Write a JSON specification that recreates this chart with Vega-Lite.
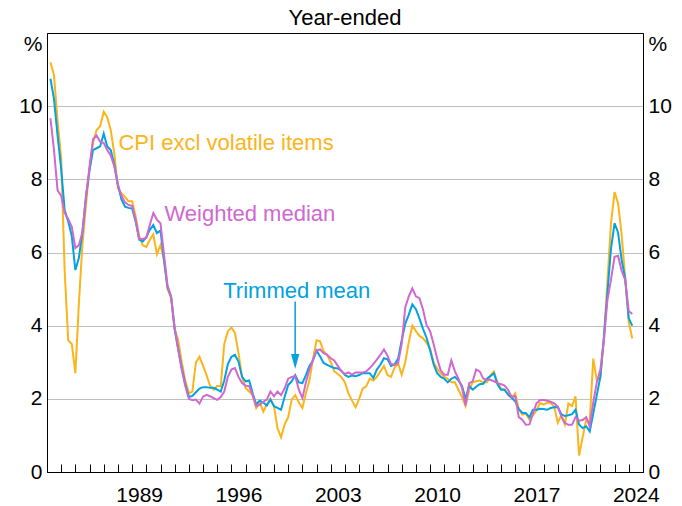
{
  "$schema": "https://vega.github.io/schema/vega-lite/v6.json",
  "width": 596,
  "height": 439,
  "autosize": {"type": "none"},
  "padding": {"left": 47, "top": 33, "right": 39, "bottom": 34},
  "background": "white",
  "title": {"text": "Year-ended", "fontSize": 22, "fontWeight": "normal", "color": "black", "font": "Liberation Sans", "baseline": "alphabetic", "offset": -14, "anchor": "middle"},
  "config": {
    "font": "Liberation Sans",
    "view": {"stroke": "black", "strokeWidth": 1},
    "axis": {"labelFont": "Liberation Sans", "labelFontSize": 21, "labelColor": "black", "domainColor": "black", "domainWidth": 1, "tickColor": "black"}
  },
  "data": {"values": [
    {"d":"1983-03-31","cpi":11.2,"tm":10.75,"wm":9.67},
    {"d":"1983-06-30","cpi":10.85,"tm":10.2,"wm":8.8},
    {"d":"1983-09-30","cpi":9.6,"tm":9.2,"wm":7.7},
    {"d":"1983-12-31","cpi":8.6,"tm":8.3,"wm":7.55},
    {"d":"1984-03-31","cpi":5.5,"tm":7.15,"wm":7.08},
    {"d":"1984-06-30","cpi":3.6,"tm":6.85,"wm":6.92},
    {"d":"1984-09-30","cpi":3.5,"tm":6.45,"wm":6.7},
    {"d":"1984-12-31","cpi":2.7,"tm":5.52,"wm":6.12},
    {"d":"1985-03-31","cpi":4.6,"tm":5.85,"wm":6.2},
    {"d":"1985-06-30","cpi":6.2,"tm":6.55,"wm":6.55},
    {"d":"1985-09-30","cpi":7.3,"tm":7.55,"wm":7.5},
    {"d":"1985-12-31","cpi":8.3,"tm":8.25,"wm":8.35},
    {"d":"1986-03-31","cpi":9.0,"tm":8.8,"wm":9.1},
    {"d":"1986-06-30","cpi":9.35,"tm":8.85,"wm":9.2},
    {"d":"1986-09-30","cpi":9.45,"tm":8.9,"wm":9.03},
    {"d":"1986-12-31","cpi":9.85,"tm":9.25,"wm":8.99},
    {"d":"1987-03-31","cpi":9.7,"tm":8.9,"wm":8.8},
    {"d":"1987-06-30","cpi":9.35,"tm":8.8,"wm":8.65},
    {"d":"1987-09-30","cpi":8.7,"tm":8.4,"wm":8.35},
    {"d":"1987-12-31","cpi":7.75,"tm":7.85,"wm":7.85},
    {"d":"1988-03-31","cpi":7.62,"tm":7.45,"wm":7.55},
    {"d":"1988-06-30","cpi":7.52,"tm":7.25,"wm":7.37},
    {"d":"1988-09-30","cpi":7.4,"tm":7.22,"wm":7.3},
    {"d":"1988-12-31","cpi":7.4,"tm":7.2,"wm":7.27},
    {"d":"1989-03-31","cpi":7.0,"tm":6.85,"wm":6.9},
    {"d":"1989-06-30","cpi":6.45,"tm":6.35,"wm":6.37},
    {"d":"1989-09-30","cpi":6.2,"tm":6.3,"wm":6.37},
    {"d":"1989-12-31","cpi":6.15,"tm":6.42,"wm":6.4},
    {"d":"1990-03-31","cpi":6.35,"tm":6.62,"wm":6.75},
    {"d":"1990-06-30","cpi":6.5,"tm":6.75,"wm":7.08},
    {"d":"1990-09-30","cpi":5.95,"tm":6.53,"wm":6.9},
    {"d":"1990-12-31","cpi":6.2,"tm":6.6,"wm":6.8},
    {"d":"1991-03-31","cpi":5.8,"tm":5.8,"wm":5.95},
    {"d":"1991-06-30","cpi":5.0,"tm":5.05,"wm":5.1},
    {"d":"1991-09-30","cpi":4.75,"tm":4.8,"wm":4.8},
    {"d":"1991-12-31","cpi":3.9,"tm":3.9,"wm":3.95},
    {"d":"1992-03-31","cpi":3.6,"tm":3.35,"wm":3.35},
    {"d":"1992-06-30","cpi":3.0,"tm":2.85,"wm":2.8},
    {"d":"1992-09-30","cpi":2.5,"tm":2.4,"wm":2.35},
    {"d":"1992-12-31","cpi":2.15,"tm":2.05,"wm":2.0},
    {"d":"1993-03-31","cpi":2.2,"tm":2.08,"wm":1.96},
    {"d":"1993-06-30","cpi":3.0,"tm":2.18,"wm":1.98},
    {"d":"1993-09-30","cpi":3.15,"tm":2.28,"wm":1.87},
    {"d":"1993-12-31","cpi":2.9,"tm":2.32,"wm":2.06},
    {"d":"1994-03-31","cpi":2.65,"tm":2.32,"wm":2.11},
    {"d":"1994-06-30","cpi":2.35,"tm":2.3,"wm":2.07},
    {"d":"1994-09-30","cpi":2.25,"tm":2.3,"wm":2.02},
    {"d":"1994-12-31","cpi":2.35,"tm":2.25,"wm":1.97},
    {"d":"1995-03-31","cpi":2.35,"tm":2.2,"wm":2.05},
    {"d":"1995-06-30","cpi":3.5,"tm":2.5,"wm":2.2},
    {"d":"1995-09-30","cpi":3.85,"tm":2.95,"wm":2.6},
    {"d":"1995-12-31","cpi":3.95,"tm":3.15,"wm":2.8},
    {"d":"1996-03-31","cpi":3.8,"tm":3.2,"wm":2.84},
    {"d":"1996-06-30","cpi":3.25,"tm":3.02,"wm":2.6},
    {"d":"1996-09-30","cpi":2.6,"tm":2.6,"wm":2.43},
    {"d":"1996-12-31","cpi":2.3,"tm":2.48,"wm":2.36},
    {"d":"1997-03-31","cpi":2.2,"tm":2.5,"wm":2.35},
    {"d":"1997-06-30","cpi":2.1,"tm":2.15,"wm":2.1},
    {"d":"1997-09-30","cpi":1.75,"tm":1.85,"wm":1.8},
    {"d":"1997-12-31","cpi":1.9,"tm":1.95,"wm":1.84},
    {"d":"1998-03-31","cpi":1.65,"tm":1.9,"wm":1.92},
    {"d":"1998-06-30","cpi":1.85,"tm":1.82,"wm":1.98},
    {"d":"1998-09-30","cpi":2.0,"tm":1.98,"wm":2.2},
    {"d":"1998-12-31","cpi":1.8,"tm":1.8,"wm":2.07},
    {"d":"1999-03-31","cpi":1.2,"tm":1.75,"wm":2.2},
    {"d":"1999-06-30","cpi":0.95,"tm":1.7,"wm":2.1},
    {"d":"1999-09-30","cpi":1.3,"tm":2.05,"wm":2.28},
    {"d":"1999-12-31","cpi":1.5,"tm":2.38,"wm":2.55},
    {"d":"2000-03-31","cpi":1.98,"tm":2.48,"wm":2.6},
    {"d":"2000-06-30","cpi":2.1,"tm":2.65,"wm":2.62},
    {"d":"2000-09-30","cpi":1.9,"tm":2.45,"wm":2.25},
    {"d":"2000-12-31","cpi":1.75,"tm":2.43,"wm":2.02},
    {"d":"2001-03-31","cpi":2.15,"tm":2.65,"wm":2.45},
    {"d":"2001-06-30","cpi":2.5,"tm":2.9,"wm":2.8},
    {"d":"2001-09-30","cpi":3.1,"tm":3.05,"wm":3.07},
    {"d":"2001-12-31","cpi":3.6,"tm":3.32,"wm":3.32},
    {"d":"2002-03-31","cpi":3.57,"tm":3.16,"wm":3.35},
    {"d":"2002-06-30","cpi":3.3,"tm":2.98,"wm":3.25},
    {"d":"2002-09-30","cpi":3.2,"tm":2.93,"wm":3.2},
    {"d":"2002-12-31","cpi":3.0,"tm":2.88,"wm":3.11},
    {"d":"2003-03-31","cpi":2.75,"tm":2.84,"wm":3.05},
    {"d":"2003-06-30","cpi":2.68,"tm":2.83,"wm":2.9},
    {"d":"2003-09-30","cpi":2.6,"tm":2.77,"wm":2.75},
    {"d":"2003-12-31","cpi":2.45,"tm":2.65,"wm":2.68},
    {"d":"2004-03-31","cpi":2.15,"tm":2.6,"wm":2.72},
    {"d":"2004-06-30","cpi":1.95,"tm":2.64,"wm":2.66},
    {"d":"2004-09-30","cpi":1.77,"tm":2.62,"wm":2.72},
    {"d":"2004-12-31","cpi":2.0,"tm":2.65,"wm":2.72},
    {"d":"2005-03-31","cpi":2.28,"tm":2.7,"wm":2.72},
    {"d":"2005-06-30","cpi":2.34,"tm":2.7,"wm":2.75},
    {"d":"2005-09-30","cpi":2.55,"tm":2.7,"wm":2.84},
    {"d":"2005-12-31","cpi":2.5,"tm":2.57,"wm":2.95},
    {"d":"2006-03-31","cpi":2.6,"tm":2.8,"wm":3.07},
    {"d":"2006-06-30","cpi":2.75,"tm":2.93,"wm":3.2},
    {"d":"2006-09-30","cpi":2.9,"tm":3.11,"wm":3.35},
    {"d":"2006-12-31","cpi":2.65,"tm":3.08,"wm":3.18},
    {"d":"2007-03-31","cpi":2.6,"tm":2.9,"wm":2.95},
    {"d":"2007-06-30","cpi":2.85,"tm":2.94,"wm":2.93},
    {"d":"2007-09-30","cpi":2.97,"tm":3.1,"wm":2.98},
    {"d":"2007-12-31","cpi":2.66,"tm":3.6,"wm":3.5},
    {"d":"2008-03-31","cpi":3.0,"tm":4.05,"wm":4.5},
    {"d":"2008-06-30","cpi":3.55,"tm":4.3,"wm":4.8},
    {"d":"2008-09-30","cpi":4.0,"tm":4.58,"wm":5.02},
    {"d":"2008-12-31","cpi":3.85,"tm":4.45,"wm":4.8},
    {"d":"2009-03-31","cpi":3.72,"tm":4.2,"wm":4.75},
    {"d":"2009-06-30","cpi":3.66,"tm":3.92,"wm":4.45},
    {"d":"2009-09-30","cpi":3.53,"tm":3.67,"wm":4.02},
    {"d":"2009-12-31","cpi":3.38,"tm":3.33,"wm":3.85},
    {"d":"2010-03-31","cpi":3.0,"tm":2.95,"wm":3.5},
    {"d":"2010-06-30","cpi":2.83,"tm":2.7,"wm":3.1},
    {"d":"2010-09-30","cpi":2.69,"tm":2.6,"wm":2.78},
    {"d":"2010-12-31","cpi":2.6,"tm":2.55,"wm":2.66},
    {"d":"2011-03-31","cpi":2.55,"tm":2.45,"wm":2.66},
    {"d":"2011-06-30","cpi":2.45,"tm":2.55,"wm":3.05},
    {"d":"2011-09-30","cpi":2.45,"tm":2.6,"wm":2.75},
    {"d":"2011-12-31","cpi":2.25,"tm":2.5,"wm":2.55},
    {"d":"2012-03-31","cpi":2.05,"tm":2.35,"wm":2.3},
    {"d":"2012-06-30","cpi":1.8,"tm":2.0,"wm":1.82},
    {"d":"2012-09-30","cpi":2.25,"tm":2.35,"wm":2.43},
    {"d":"2012-12-31","cpi":2.45,"tm":2.25,"wm":2.48},
    {"d":"2013-03-31","cpi":2.48,"tm":2.33,"wm":2.8},
    {"d":"2013-06-30","cpi":2.5,"tm":2.4,"wm":2.75},
    {"d":"2013-09-30","cpi":2.45,"tm":2.41,"wm":2.55},
    {"d":"2013-12-31","cpi":2.45,"tm":2.55,"wm":2.52},
    {"d":"2014-03-31","cpi":2.64,"tm":2.62,"wm":2.52},
    {"d":"2014-06-30","cpi":2.75,"tm":2.7,"wm":2.48},
    {"d":"2014-09-30","cpi":2.45,"tm":2.4,"wm":2.43},
    {"d":"2014-12-31","cpi":2.28,"tm":2.25,"wm":2.4},
    {"d":"2015-03-31","cpi":2.25,"tm":2.25,"wm":2.36},
    {"d":"2015-06-30","cpi":2.11,"tm":2.12,"wm":2.25},
    {"d":"2015-09-30","cpi":2.02,"tm":2.03,"wm":2.05},
    {"d":"2015-12-31","cpi":2.15,"tm":1.93,"wm":2.07},
    {"d":"2016-03-31","cpi":1.72,"tm":1.72,"wm":1.5},
    {"d":"2016-06-30","cpi":1.57,"tm":1.62,"wm":1.43},
    {"d":"2016-09-30","cpi":1.6,"tm":1.61,"wm":1.29},
    {"d":"2016-12-31","cpi":1.43,"tm":1.5,"wm":1.3},
    {"d":"2017-03-31","cpi":1.55,"tm":1.7,"wm":1.6},
    {"d":"2017-06-30","cpi":1.68,"tm":1.7,"wm":1.88},
    {"d":"2017-09-30","cpi":1.89,"tm":1.73,"wm":1.97},
    {"d":"2017-12-31","cpi":1.84,"tm":1.72,"wm":1.97},
    {"d":"2018-03-31","cpi":1.89,"tm":1.7,"wm":1.95},
    {"d":"2018-06-30","cpi":1.89,"tm":1.75,"wm":1.92},
    {"d":"2018-09-30","cpi":1.78,"tm":1.77,"wm":1.88},
    {"d":"2018-12-31","cpi":1.35,"tm":1.78,"wm":1.78},
    {"d":"2019-03-31","cpi":1.55,"tm":1.58,"wm":1.52},
    {"d":"2019-06-30","cpi":1.3,"tm":1.53,"wm":1.34},
    {"d":"2019-09-30","cpi":1.87,"tm":1.55,"wm":1.29},
    {"d":"2019-12-31","cpi":1.8,"tm":1.58,"wm":1.29},
    {"d":"2020-03-31","cpi":2.07,"tm":1.7,"wm":1.5},
    {"d":"2020-06-30","cpi":0.45,"tm":1.3,"wm":1.4},
    {"d":"2020-09-30","cpi":0.95,"tm":1.2,"wm":1.42},
    {"d":"2020-12-31","cpi":1.43,"tm":1.25,"wm":1.5},
    {"d":"2021-03-31","cpi":1.35,"tm":1.11,"wm":1.25},
    {"d":"2021-06-30","cpi":3.1,"tm":1.6,"wm":1.9},
    {"d":"2021-09-30","cpi":2.5,"tm":2.1,"wm":2.45},
    {"d":"2021-12-31","cpi":2.6,"tm":2.6,"wm":2.8},
    {"d":"2022-03-31","cpi":3.6,"tm":3.7,"wm":3.6},
    {"d":"2022-06-30","cpi":5.2,"tm":4.9,"wm":4.7},
    {"d":"2022-09-30","cpi":6.8,"tm":6.1,"wm":5.26},
    {"d":"2022-12-31","cpi":7.65,"tm":6.8,"wm":5.88},
    {"d":"2023-03-31","cpi":7.35,"tm":6.55,"wm":5.91},
    {"d":"2023-06-30","cpi":6.5,"tm":5.8,"wm":5.5},
    {"d":"2023-09-30","cpi":5.3,"tm":5.3,"wm":5.25},
    {"d":"2023-12-31","cpi":4.1,"tm":4.2,"wm":4.4},
    {"d":"2024-03-31","cpi":3.65,"tm":4.0,"wm":4.32}
  ]},
  "encoding": {
    "x": {
      "field": "d", "type": "temporal",
      "scale": {"type": "utc", "domain": [{"year": 1983, "month": 1, "date": 1, "utc": true}, {"year": 2025, "month": 1, "date": 1, "utc": true}]},
      "axis": {
        "title": null, "grid": false,
        "tickCount": {"interval": "year", "step": 1},
        "tickSize": -8, "tickWidth": 1,
        "labelExpr": "(utcyear(datum.value) - 1982) % 7 == 0 ? utcFormat(datum.value, '%Y') : ''",
        "labelOffset": 7, "labelPadding": 20, "labelFlush": false, "labelOverlap": false, "labelBound": false
      }
    }
  },
  "layer": [
    {
      "mark": {"type": "line", "color": "#FBB41A", "strokeWidth": 2},
      "encoding": {
        "y": {
          "field": "cpi", "type": "quantitative",
          "scale": {"domain": [0, 12], "nice": false, "zero": true},
          "axis": {
            "orient": "left", "title": null, "values": [0, 2, 4, 6, 8, 10, 12],
            "labelExpr": "datum.value == 12 ? '%' : datum.label",
            "labelBaseline": {"condition": {"test": "datum.value == 12", "value": "top"}, "value": "middle"},
            "ticks": false, "labelPadding": 5,
            "grid": true, "gridColor": "#BFBFBF", "gridWidth": 1,
            "gridOpacity": {"condition": {"test": "datum.value == 0 || datum.value == 12", "value": 0}, "value": 1}
          }
        }
      }
    },
    {
      "mark": {"type": "line", "color": "#00A2E1", "strokeWidth": 2},
      "encoding": {
        "y": {
          "field": "tm", "type": "quantitative",
          "axis": {
            "orient": "right", "title": null, "values": [0, 2, 4, 6, 8, 10, 12],
            "labelExpr": "datum.value == 12 ? '%' : datum.label",
            "labelBaseline": {"condition": {"test": "datum.value == 12", "value": "top"}, "value": "middle"},
            "ticks": false, "labelPadding": 5, "grid": false
          }
        }
      }
    },
    {
      "mark": {"type": "line", "color": "#CF68CF", "strokeWidth": 2},
      "encoding": {
        "y": {"field": "wm", "type": "quantitative", "axis": null}
      }
    },
    {
      "data": {"values": [
        {"d": "1988-01-15", "v": 8.79, "label": "CPI excl volatile items"},
        {"d": "1991-04-12", "v": 6.85, "label": "Weighted median"},
        {"d": "1995-06-03", "v": 4.76, "label": "Trimmed mean"}
      ]},
      "mark": {"type": "text", "align": "left", "baseline": "alphabetic", "fontSize": 22, "font": "Liberation Sans"},
      "encoding": {
        "y": {"field": "v", "type": "quantitative", "axis": null},
        "text": {"field": "label"},
        "color": {"field": "label", "type": "nominal", "legend": null,
          "scale": {"domain": ["CPI excl volatile items", "Weighted median", "Trimmed mean"], "range": ["#FBB41A", "#CF68CF", "#00A2E1"]}}
      }
    },
    {
      "data": {"values": [{"d": "2000-06-28", "v": 4.66, "v2": 3.2}]},
      "mark": {"type": "rule", "color": "#00A2E1", "strokeWidth": 1.5},
      "encoding": {
        "y": {"field": "v", "type": "quantitative", "axis": null},
        "y2": {"field": "v2"}
      }
    },
    {
      "data": {"values": [{"d": "2000-06-28", "v": 3.02}]},
      "mark": {"type": "point", "shape": "M-0.55,-1L0.55,-1L0,1Z", "filled": true, "size": 225, "color": "#00A2E1", "opacity": 1},
      "encoding": {
        "y": {"field": "v", "type": "quantitative", "axis": null}
      }
    }
  ],
  "resolve": {"axis": {"y": "independent"}}
}
